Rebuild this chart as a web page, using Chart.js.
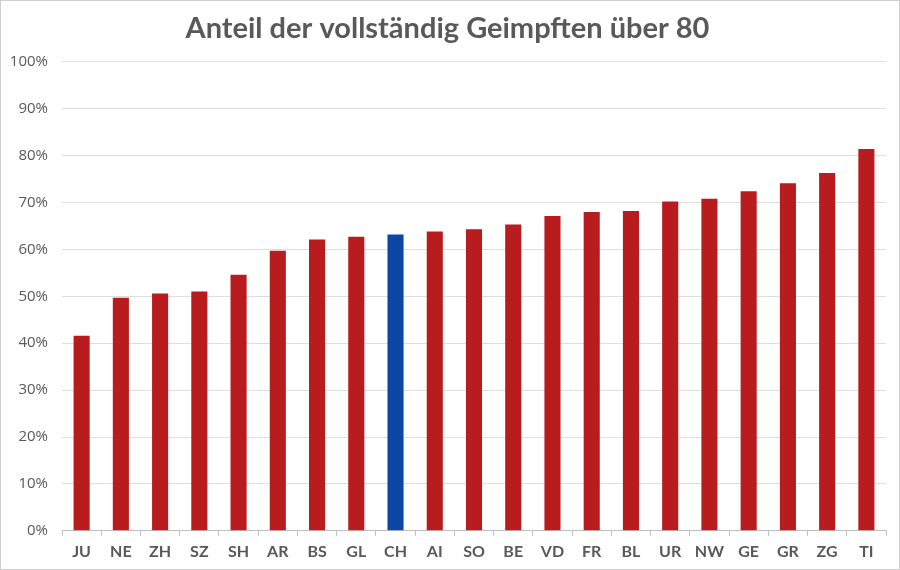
<!DOCTYPE html>
<html>
<head>
<meta charset="utf-8">
<script src="https://cdn.jsdelivr.net/npm/chart.js@4/dist/chart.umd.min.js"></script>
<style>
    html, body { margin: 0; padding: 0; background: #fff; }
    .frame { width: 900px; height: 570px; box-sizing: border-box; border: 1px solid #cfcfcf; }
    canvas { display: block; }
</style>
</head>
<body>
<div class="frame"><canvas id="chart" width="898" height="568"></canvas></div>
<script>
const cantons = ['JU', 'NE', 'ZH', 'SZ', 'SH', 'AR', 'BS', 'GL', 'CH', 'AI', 'SO', 'BE', 'VD', 'FR', 'BL', 'UR', 'NW', 'GE', 'GR', 'ZG', 'TI'];
const shares = [41.6, 49.7, 50.6, 51.0, 54.6, 59.7, 62.1, 62.7, 63.2, 63.8, 64.3, 65.3, 67.1, 68.0, 68.2, 70.2, 70.8, 72.4, 74.1, 76.3, 81.4];
const yTicks = [0, 10, 20, 30, 40, 50, 60, 70, 80, 90, 100];

const red = '#b81c1f';
const blue = '#0c47a6';
const textGray = '#595959';

const barColors = cantons.map(c => c === 'CH' ? blue : red);

new Chart(document.getElementById('chart'), {
    type: 'bar',
    data: {
        labels: cantons,
        datasets: [{
            data: shares,
            backgroundColor: barColors,
            barPercentage: 0.82,
            categoryPercentage: 0.5
        }]
    },
    options: {
        responsive: false,
        animation: false,
        layout: { padding: { left: 8, right: 13, top: 0, bottom: 2 } },
        plugins: {
            legend: { display: false },
            tooltip: { enabled: false },
            title: {
                display: true,
                text: 'Anteil der vollständig Geimpften über 80',
                color: textGray,
                font: { family: 'Lato', size: 29, weight: 'bold' },
                padding: { top: 10, bottom: 16 }
            }
        },
        scales: {
            y: {
                min: 0,
                max: 100,
                afterBuildTicks: s => { s.ticks = yTicks.map(v => ({ value: v })); },
                afterFit: s => { s.width = 53; },
                grid: { color: '#dedede', drawTicks: false },
                border: { display: false },
                ticks: {
                    color: textGray,
                    padding: 14,
                    font: { family: 'Open Sans', size: 15 },
                    callback: v => v + '%'
                }
            },
            x: {
                offset: true,
                grid: {
                    offset: true,
                    drawOnChartArea: false,
                    drawTicks: true,
                    tickLength: 5,
                    color: '#bfbfbf'
                },
                border: { display: true, color: '#bfbfbf' },
                ticks: {
                    color: textGray,
                    padding: 6,
                    font: { family: 'Lato', size: 16, weight: 'bold' }
                }
            }
        }
    }
});
</script>
</body>
</html>
